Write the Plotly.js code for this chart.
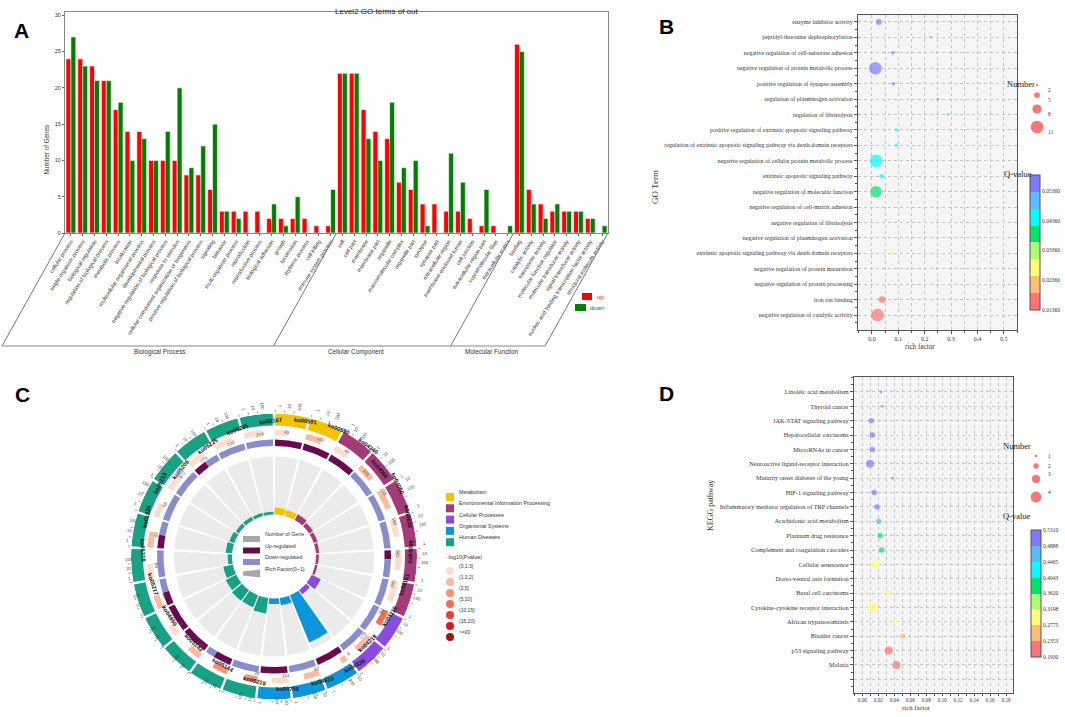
<!DOCTYPE html>
<html><head><meta charset="utf-8">
<script src="https://cdn.plot.ly/plotly-3.0.1.min.js"></script>
<style>html,body{margin:0;padding:0;background:#fff}#chart{width:1065px;height:717px}</style>
</head><body><div id="chart"></div>
<script>
// ================= DATA =================
// Panel A : Level2 GO terms
const goTerms=['cellular process','single-organism process','biological regulation','regulation of biological process','metabolic process','localization','multicellular organismal process','developmental process','negative regulation of biological process','response to stimulus','cellular component organization or biogenesis','positive regulation of biological process','signaling','behavior','multi-organism process','reproduction','reproductive process','biological adhesion','growth','locomotion','rhythmic process','cell killing','immune system process','cell','cell part','membrane','membrane part','organelle','macromolecular complex','organelle part','synapse','synapse part','extracellular region','membrane-enclosed lumen','cell junction','extracellular region part','supramolecular fiber','extracellular matrix','binding','catalytic activity','transporter activity','molecular function regulator','molecular transducer activity','signal transducer activity','nucleic acid binding transcription factor activity','structural molecule activity'];
const goUp=[24,24,23,21,17,14,14,10,10,10,8,8,6,3,3,3,3,2,2,2,2,1,1, 22,22,17,14,13,7,6,4,4,3,3,2,1,1,0, 26,6,4,3,3,3,2,0];
const goDown=[27,23,21,21,18,10,13,10,14,20,9,12,15,3,2,0,0,4,1,5,0,0,6, 22,22,13,10,18,9,10,1,0,11,7,0,6,0,1, 25,4,2,4,3,3,2,1];
const goGroups=['Biological Process','Cellular Component','Molecular Function'];
const goGroupSizes=[23,15,8];
const goYTicks=[0,5,10,15,20,25,30];

// Panel B : GO enrichment bubbles (top to bottom)
const bTerms=['enzyme inhibitor activity','peptidyl-threonine dephosphorylation','negative regulation of cell-substrate adhesion','negative regulation of protein metabolic process','positive regulation of synapse assembly','regulation of plasminogen activation','regulation of fibrinolysis','positive regulation of extrinsic apoptotic signaling pathway','regulation of extrinsic apoptotic signaling pathway via death domain receptors','negative regulation of cellular protein metabolic process','extrinsic apoptotic signaling pathway','negative regulation of molecular function','negative regulation of cell-matrix adhesion','negative regulation of fibrinolysis','negative regulation of plasminogen activation','extrinsic apoptotic signaling pathway via death domain receptors','negative regulation of protein maturation','negative regulation of protein processing','iron ion binding','negative regulation of catalytic activity'];
const bRich=[0.026,0.222,0.079,0.013,0.081,0.250,0.287,0.092,0.092,0.015,0.037,0.015,0.131,0.500,0.500,0.075,0.168,0.168,0.038,0.021];
const bNum=[5,2,3,11,3,2,2,3,3,11,4,10,2,2,2,3,2,2,6,11];
const bQ=[0.056,0.056,0.056,0.056,0.056,0.056,0.045,0.045,0.045,0.045,0.045,0.040,0.028,0.028,0.028,0.028,0.028,0.028,0.015,0.015];
const bQTicks=[0.0136,0.0236,0.0336,0.0436,0.0536];
const bQTickText=['0.01360','0.02360','0.03360','0.04360','0.05360'];
const bLegendNums=[2,5,8,11];

// Panel D : KEGG enrichment bubbles (top to bottom)
const dTerms=['Linoleic acid metabolism','Thyroid cancer','JAK-STAT signaling pathway','Hepatocellular carcinoma','MicroRNAs in cancer','Neuroactive ligand-receptor interaction','Maturity onset diabetes of the young','HIF-1 signaling pathway','Inflammatory mediator regulation of TRP channels','Arachidonic acid metabolism','Platinum drug resistance','Complement and coagulation cascades','Cellular senescence','Dorso-ventral axis formation','Basal cell carcinoma','Cytokine-cytokine receptor interaction','African trypanosomiasis','Bladder cancer','p53 signaling pathway','Malaria'];
const dRich=[0.0234,0.025,0.0113,0.0125,0.0125,0.0096,0.038,0.015,0.0184,0.0205,0.0222,0.0243,0.0167,0.1667,0.0318,0.013,0.041,0.0506,0.033,0.0426];
const dNum=[1,1,2,2,2,3,1,2,2,2,2,2,3,1,2,4,2,2,3,3];
const dQ=[0.51,0.51,0.51,0.51,0.51,0.51,0.51,0.51,0.51,0.47,0.38,0.38,0.30,0.30,0.30,0.30,0.30,0.255,0.21,0.21];
const dQTicks=[0.1930,0.2353,0.2775,0.3198,0.3620,0.4043,0.4465,0.4888,0.5310];
const dLegendNums=[1,2,3,4];

// Panel C : KEGG circos (clockwise from top)
const koIds=['ko00591','ko00590','ko04340','ko04066','ko04060','ko04630','ko04080','ko04151','ko04115','ko04218','ko04320','ko04610','ko04750','ko05219','ko05144','ko05143','ko04950','ko05217','ko05218','ko01524','ko05213','ko05206','ko05225','ko05205','ko05167'];
const koClass=[0,0,1,1,1,1,1,1,2,2,3,3,3,4,4,4,4,4,4,4,4,4,4,4,4];
const koBg=[43,102,48,131,298,180,336,395,92,179,6,82,114,39,71,46,26,62,69,96,58,172,173,210,219];
const koUp=[1,2,1,0,0,0,1,0,0,0,1,0,2,0,2,2,1,1,0,1,0,0,1,0,0];
const koDown=[0,0,0,2,4,2,2,3,3,3,0,2,0,2,1,0,0,1,1,1,1,2,1,2,2];
const koRich=[0.023,0.020,0.021,0.015,0.013,0.011,0.009,0.008,0.033,0.017,0.167,0.024,0.018,0.051,0.042,0.043,0.038,0.032,0.014,0.021,0.017,0.012,0.012,0.010,0.009];
const koPbin=[0,1,0,1,1,0,0,0,3,1,1,1,0,2,2,1,0,1,0,1,0,0,0,0,0];
const classNames=['Metabolism','Environmental Information Processing','Cellular Processes','Organismal Systems','Human Diseases'];
const pBinNames=['(0,1.3]','(1.3,2]','(2,5]','(5,10]','(10,15]','(15,20]','>=20'];
const scaleTicks=[1,10,100];

// ================= STYLE =================
const W=1065,H=717;
const px=x=>x/W, py=y=>1-y/H;
const SANS='Liberation Sans, Arial, sans-serif', SERIF='Liberation Serif, Times New Roman, serif';
const classColors=['#F5C200','#A43B78','#8B4BE0','#0C95DA','#17A285'];
const pColors=['#FDDDCD','#FCBBA1','#FC9272','#FB6A4A','#EF3B2C','#E0141C','#A50F15'];
const upColor='#6A0A4E', downColor='#8A8DCB';
const qColors=['#FF7474','#FFBE74','#FFFF74','#A8FF74','#00E46C','#00FFFF','#5CBAFF','#7B7BFF'];
function stepScale(cols){const n=cols.length,s=[];cols.forEach((c,i)=>{s.push([i/n,c]);s.push([(i+1)/n,c]);});return s;}

const traces=[], shapes=[], annotations=[];

// ================= PANEL A =================
const aL=65,aR=608,aTop=233,aBot=346,slant=63;
traces.push({type:'bar',x:goTerms,y:goUp,name:'up',marker:{color:'#FF0000',line:{color:'#fff',width:0.6}},xaxis:'x',yaxis:'y',hoverinfo:'x+y'});
traces.push({type:'bar',x:goTerms,y:goDown,name:'down',marker:{color:'#008000',line:{color:'#fff',width:0.6}},xaxis:'x',yaxis:'y',hoverinfo:'x+y'});
const catW=(aR-aL)/goTerms.length;
let bounds=[0];goGroupSizes.forEach(s=>bounds.push(bounds[bounds.length-1]+s));
bounds.forEach(b=>{const xt=aL+b*catW;shapes.push({type:'line',xref:'paper',yref:'paper',x0:px(xt),y0:py(aTop),x1:px(xt-slant),y1:py(aBot),line:{color:'#666',width:0.9}});});
shapes.push({type:'line',xref:'paper',yref:'paper',x0:px(aL-slant),y0:py(aBot),x1:px(aR-slant),y1:py(aBot),line:{color:'#888',width:1.2}});
goGroups.forEach((g,i)=>{const m=(aL+bounds[i]*catW+aL+bounds[i+1]*catW)/2-slant-6;
 annotations.push({text:g,xref:'paper',yref:'paper',x:px(m),y:py(352),showarrow:false,font:{family:SANS,size:6.3,color:'#333'}});});
annotations.push({text:'Level2 GO terms of out',xref:'paper',yref:'paper',x:px(333),y:py(5),showarrow:false,font:{family:SANS,size:8,color:'#222'}});
annotations.push({text:'Number of Genes',xref:'paper',yref:'paper',x:px(41),y:py(123),textangle:-90,showarrow:false,font:{family:SANS,size:6.3,color:'#333'}});
shapes.push({type:'rect',xref:'paper',yref:'paper',x0:px(582),x1:px(592),y0:py(293),y1:py(300),fillcolor:'#FF0000',line:{width:0}});
shapes.push({type:'rect',xref:'paper',yref:'paper',x0:px(575),x1:px(586),y0:py(304),y1:py(311),fillcolor:'#008000',line:{width:0}});
annotations.push({text:'up',xref:'paper',yref:'paper',x:px(595),y:py(296.5),xanchor:'left',showarrow:false,font:{family:SANS,size:6,color:'#FF0000'}});
annotations.push({text:'down',xref:'paper',yref:'paper',x:px(588),y:py(307.5),xanchor:'left',showarrow:false,font:{family:SANS,size:6,color:'#008000'}});

// ================= PANEL B =================
const bY=bTerms.map((_,i)=>bTerms.length-1-i);
const bSize=n=>n*1.15;
traces.push({type:'scatter',mode:'markers',x:bRich,y:bY,text:bTerms,xaxis:'x2',yaxis:'y2',
 marker:{size:bNum.map(bSize),color:bQ,colorscale:stepScale(qColors),cmin:0.0136,cmax:0.0589,line:{width:0},
 colorbar:{x:px(1030),xanchor:'left',y:py(242.5),yanchor:'middle',len:135,lenmode:'pixels',thickness:10,thicknessmode:'pixels',xpad:0,ypad:0,
  outlinewidth:1,outlinecolor:'#555',tickvals:bQTicks,ticktext:bQTickText,ticks:'',tickfont:{family:SERIF,size:5.5,color:'#333'}}},
 hoverinfo:'text+x'});
shapes.push({type:'rect',xref:'x2 domain',yref:'y2 domain',x0:0,x1:1,y0:0,y1:1,fillcolor:'#F5F5F5',line:{width:0},layer:'below'});
annotations.push({text:'GO Term',xref:'paper',yref:'paper',x:px(655),y:py(168),textangle:-90,showarrow:false,font:{family:SERIF,size:9,color:'#333'}});
annotations.push({text:'rich factor',xref:'paper',yref:'paper',x:px(937),y:py(347),showarrow:false,font:{family:SERIF,size:7.2,color:'#333'}});
annotations.push({text:'Number',xref:'paper',yref:'paper',x:px(1037),y:py(77),showarrow:false,font:{family:SERIF,size:8.5,color:'#222'}});
annotations.push({text:'Q-value',xref:'paper',yref:'paper',x:px(1034),y:py(167),showarrow:false,font:{family:SERIF,size:8.5,color:'#222'}});
const bLegY=[85,95,109,127];
bLegendNums.forEach((n,i)=>{const r=bSize(n)/2;
 shapes.push({type:'circle',xref:'paper',yref:'paper',x0:px(1037-r),x1:px(1037+r),y0:py(bLegY[i]+r),y1:py(bLegY[i]-r),fillcolor:'#FF7474',line:{width:0}});
 annotations.push({text:String(n),xref:'paper',yref:'paper',x:px(1046),y:py(bLegY[i]),xanchor:'left',showarrow:false,font:{family:SERIF,size:5.5,color:'#333'}});});

// ================= PANEL D =================
const dY=dTerms.map((_,i)=>dTerms.length-1-i);
const dSize=n=>n*2.7;
traces.push({type:'scatter',mode:'markers',x:dRich,y:dY,text:dTerms,xaxis:'x3',yaxis:'y3',
 marker:{size:dNum.map(dSize),color:dQ,colorscale:stepScale(qColors),cmin:dQTicks[0],cmax:dQTicks[dQTicks.length-1],line:{width:0},
 colorbar:{x:px(1031),xanchor:'left',y:py(593.5),yanchor:'middle',len:127,lenmode:'pixels',thickness:10,thicknessmode:'pixels',xpad:0,ypad:0,
  outlinewidth:1,outlinecolor:'#555',tickvals:dQTicks,ticktext:dQTicks.map(v=>v.toFixed(4)),ticks:'',tickfont:{family:SERIF,size:5.5,color:'#333'}}},
 hoverinfo:'text+x'});
shapes.push({type:'rect',xref:'x3 domain',yref:'y3 domain',x0:0,x1:1,y0:0,y1:1,fillcolor:'#F5F5F5',line:{width:0},layer:'below'});
annotations.push({text:'KEGG pathway',xref:'paper',yref:'paper',x:px(717),y:py(533),textangle:-90,showarrow:false,font:{family:SERIF,size:8,color:'#333'}});
annotations.push({text:'rich factor',xref:'paper',yref:'paper',x:px(933),y:py(712.5),showarrow:false,font:{family:SERIF,size:6.8,color:'#333'}});
annotations.push({text:'Number',xref:'paper',yref:'paper',x:px(1033),y:py(446),showarrow:false,font:{family:SERIF,size:8.5,color:'#222'}});
annotations.push({text:'Q-value',xref:'paper',yref:'paper',x:px(1033),y:py(523),showarrow:false,font:{family:SERIF,size:8.5,color:'#222'}});
const dLegY=[456,466,479,497];
dLegendNums.forEach((n,i)=>{const r=dSize(n)/2;
 shapes.push({type:'circle',xref:'paper',yref:'paper',x0:px(1036-r),x1:px(1036+r),y0:py(dLegY[i]+r),y1:py(dLegY[i]-r),fillcolor:'#FF7474',line:{width:0}});
 annotations.push({text:String(n),xref:'paper',yref:'paper',x:px(1046),y:py(dLegY[i]),xanchor:'left',showarrow:false,font:{family:SERIF,size:5.5,color:'#333'}});});

// ================= PANEL C =================
const cx=274,cy=556.5;
const nK=koIds.length,secW=360/nK,gap=1.0,blkW=secW-gap;
const pol=(r,th)=>{const t=th*Math.PI/180;return {x:px(cx+r*Math.sin(t)),y:py(cy-r*Math.cos(t))};};
const tang=th=>{let a=(th>90&&th<270)?th-180:th;if(a>180)a-=360;return a;};
const radi=th=>(th<180?th-90:th-270);
const thC=koIds.map((_,i)=>(i+0.5)*secW);
const st=koIds.map((_,i)=>i*secW+gap/2);
const bp=(o)=>Object.assign({type:'barpolar',subplot:'polar',showlegend:false,hoverinfo:'skip'},o);
traces.push(bp({theta:thC,r:thC.map(()=>58),base:42,width:secW-1.4,marker:{color:'#EBEBEB',line:{width:0}}}));
traces.push(bp({theta:thC,r:koRich.map(v=>v*305),base:42,width:secW-1.4,marker:{color:koClass.map(c=>classColors[c]),line:{width:0}},hoverinfo:'text',text:koIds}));
const tot=koIds.map((_,i)=>koUp[i]+koDown[i]);
const upIdx=koIds.map((_,i)=>i).filter(i=>koUp[i]>0), dnIdx=koIds.map((_,i)=>i).filter(i=>koDown[i]>0);
traces.push(bp({theta:upIdx.map(i=>st[i]+koUp[i]/tot[i]*blkW/2),width:upIdx.map(i=>koUp[i]/tot[i]*blkW),r:upIdx.map(()=>6.5),base:110.5,marker:{color:upColor,line:{width:0}}}));
traces.push(bp({theta:dnIdx.map(i=>st[i]+koUp[i]/tot[i]*blkW+koDown[i]/tot[i]*blkW/2),width:dnIdx.map(i=>koDown[i]/tot[i]*blkW),r:dnIdx.map(()=>6.5),base:110.5,marker:{color:downColor,line:{width:0}}}));
const frac=v=>Math.log10(v)/3.6;
traces.push(bp({theta:koBg.map((v,i)=>st[i]+frac(v)*blkW/2),width:koBg.map(v=>frac(v)*blkW),r:koBg.map(()=>6),base:121,marker:{color:koPbin.map(b=>pColors[b]),line:{width:0}}}));
traces.push(bp({theta:thC,r:thC.map(()=>12),base:131,width:blkW,marker:{color:koClass.map(c=>classColors[c]),line:{width:0}}}));
koIds.forEach((id,i)=>{
 const p=pol(137,thC[i]);
 annotations.push({text:'<b>'+id+'</b>',x:p.x,y:p.y,xref:'paper',yref:'paper',textangle:tang(thC[i]),showarrow:false,font:{family:SANS,size:5.8,color:'#111'}});
 const tb=st[i]+frac(koBg[i])*blkW/2, q=pol(124,tb);
 annotations.push({text:String(koBg[i]),x:q.x,y:q.y,xref:'paper',yref:'paper',textangle:tang(tb),showarrow:false,font:{family:SANS,size:4.6,color:'#555'}});
 scaleTicks.forEach(v=>{const th=st[i]+frac(v)*blkW,s=pol(151,th);
  annotations.push({text:String(v),x:s.x,y:s.y,xref:'paper',yref:'paper',textangle:radi(th),showarrow:false,font:{family:SANS,size:4.4,color:'#444'}});
  const a=pol(144,th),b=pol(146.5,th);
  shapes.push({type:'line',xref:'paper',yref:'paper',x0:a.x,y0:a.y,x1:b.x,y1:b.y,line:{color:'#666',width:0.6}});});
});
const cl=[{t:'Number of Gene',c:'#A6A6A6',y:539},{t:'Up-regulated',c:upColor,y:550.5},{t:'Down-regulated',c:downColor,y:562}];
cl.forEach(o=>{shapes.push({type:'rect',xref:'paper',yref:'paper',x0:px(243),x1:px(260),y0:py(o.y+3),y1:py(o.y-3),fillcolor:o.c,line:{width:0}});
 annotations.push({text:o.t,xref:'paper',yref:'paper',x:px(263),y:py(o.y),xanchor:'left',showarrow:false,font:{family:SANS,size:5.3,color:'#333'}});});
annotations.push({text:'100',xref:'paper',yref:'paper',x:px(251.5),y:py(539),showarrow:false,font:{family:SANS,size:4,color:'#fff'}});
shapes.push({type:'path',xref:'paper',yref:'paper',path:`M${px(243)},${py(571.5)} L${px(260)},${py(569.5)} L${px(260)},${py(577.5)} L${px(243)},${py(575.5)} Z`,fillcolor:'#A6A6A6',line:{width:0}});
annotations.push({text:'Rich Factor(0~1)',xref:'paper',yref:'paper',x:px(263),y:py(573.5),xanchor:'left',showarrow:false,font:{family:SANS,size:5.3,color:'#333'}});
classNames.forEach((n,i)=>{const y=497+i*11.3;
 shapes.push({type:'rect',xref:'paper',yref:'paper',x0:px(446),x1:px(454),y0:py(y+4),y1:py(y-4),fillcolor:classColors[i],line:{width:0}});
 annotations.push({text:n,xref:'paper',yref:'paper',x:px(457),y:py(y),xanchor:'left',showarrow:false,font:{family:SANS,size:5.4,color:'#333'}});});
annotations.push({text:'-log10(Pvalue)',xref:'paper',yref:'paper',x:px(445),y:py(562),xanchor:'left',showarrow:false,font:{family:SANS,size:5.4,color:'#333'}});
pBinNames.forEach((n,i)=>{const y=571+i*11;
 shapes.push({type:'circle',xref:'paper',yref:'paper',x0:px(446),x1:px(454),y0:py(y+4),y1:py(y-4),fillcolor:pColors[i],line:{width:0}});
 annotations.push({text:n,xref:'paper',yref:'paper',x:px(457),y:py(y),xanchor:'left',showarrow:false,font:{family:SANS,size:5,color:'#333'}});});

[['A',12,17],['B',666,13],['C',13,394],['D',666,393]].forEach(l=>annotations.push({text:'<b>'+l[0]+'</b>',xref:'paper',yref:'paper',x:px(l[1]),y:py(l[2]),showarrow:false,font:{family:SANS,size:21,color:'#000'}}));

// ================= LAYOUT =================
const gridDot={showgrid:true,griddash:'dot',gridcolor:'#C4C4C4',gridwidth:0.8};
const layout={width:W,height:H,margin:{l:0,r:0,t:0,b:0},paper_bgcolor:'#fff',plot_bgcolor:'#fff',showlegend:false,
 barmode:'group',bargap:0.17,bargroupgap:0,
 xaxis:{domain:[px(aL),px(aR)],anchor:'y',type:'category',range:[-0.5,goTerms.length-0.5],tickangle:-57,tickfont:{family:SANS,size:5.5,color:'#333'},
  ticks:'outside',ticklen:2,tickcolor:'#666',showline:true,linecolor:'#888',linewidth:1,mirror:true,showgrid:false,automargin:false},
 yaxis:{domain:[py(aTop),py(12)],anchor:'x',range:[0,30.45],tickvals:goYTicks,tickfont:{family:SANS,size:5.5,color:'#333'},ticks:'outside',ticklen:2,tickcolor:'#666',
  showline:true,linecolor:'#888',linewidth:1,mirror:true,showgrid:false,zeroline:false,automargin:false},
 xaxis2:Object.assign({domain:[px(858),px(1017)],anchor:'y2',range:[-0.053,0.55],tick0:0,dtick:0.1,tickformat:'.1f',ticks:'outside',ticklen:3,tickcolor:'#555',
  tickfont:{family:SERIF,size:6,color:'#333'},showline:true,linecolor:'#555',linewidth:1.2,mirror:true,zeroline:false,automargin:false,
  minor:{dtick:0.05,tick0:0,ticks:'outside',ticklen:2,tickcolor:'#555',showgrid:true,griddash:'dot',gridcolor:'#C4C4C4',gridwidth:0.8}},gridDot),
 yaxis2:Object.assign({domain:[py(330),py(15)],anchor:'x2',range:[-0.97,19.45],tickmode:'array',tickvals:bY,ticktext:bTerms,ticks:'outside',ticklen:3,tickcolor:'#555',
  tickfont:{family:SERIF,size:6,color:'#333'},showline:true,linecolor:'#555',linewidth:1.2,mirror:true,zeroline:false,automargin:false,
  minor:{tickmode:'linear',tick0:0,dtick:0.5,ticks:'outside',ticklen:2,tickcolor:'#555',showgrid:false}},gridDot),
 xaxis3:Object.assign({domain:[px(854),px(1013)],anchor:'y3',range:[-0.0104,0.1887],tick0:0,dtick:0.02,tickformat:'.2f',ticks:'outside',ticklen:2,tickcolor:'#555',
  tickfont:{family:SERIF,size:5.2,color:'#333'},showline:true,linecolor:'#555',linewidth:1.2,mirror:true,zeroline:false,automargin:false,
  minor:{dtick:0.01,tick0:0,ticks:'outside',ticklen:1.5,tickcolor:'#555',showgrid:true,griddash:'dot',gridcolor:'#C4C4C4',gridwidth:0.8}},gridDot),
 yaxis3:Object.assign({domain:[py(693),py(377)],anchor:'x3',range:[-1.95,20.04],tickmode:'array',tickvals:dY.concat([-1]),ticktext:dTerms.concat(['']),ticks:'outside',ticklen:3,tickcolor:'#555',
  tickfont:{family:SERIF,size:6.3,color:'#333'},showline:true,linecolor:'#555',linewidth:1.2,mirror:true,zeroline:false,automargin:false,
  minor:{tickmode:'linear',tick0:0,dtick:0.5,ticks:'outside',ticklen:2,tickcolor:'#555',showgrid:false}},gridDot),
 polar:{domain:{x:[px(131),px(417)],y:[py(699.5),py(413.5)]},bgcolor:'rgba(0,0,0,0)',barmode:'overlay',hole:0,
  radialaxis:{range:[0,143],visible:false},angularaxis:{rotation:90,direction:'clockwise',visible:false}},
 shapes:shapes,annotations:annotations};
Plotly.newPlot('chart',traces,layout,{displayModeBar:false});
</script></body></html>
